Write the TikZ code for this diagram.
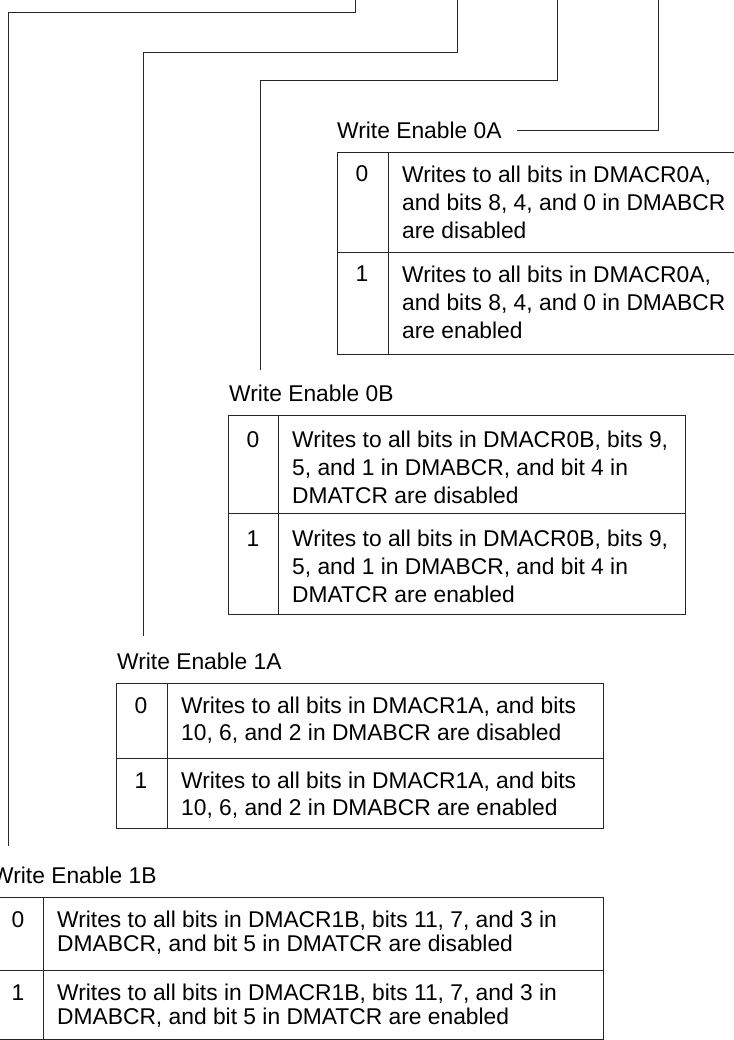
\documentclass[tikz,border=0pt]{standalone}
\usepackage{fontspec}
\setmainfont{Liberation Sans}
\begin{document}
\begin{tikzpicture}[x=1pt,y=-1pt,
    conn/.style={line width=1pt, draw=black!85},
    grid/.style={line width=1pt, draw=black!85},
    lbl/.style={anchor=base west, inner sep=0pt, font=\fontsize{22.8}{26}\selectfont},
    bitval/.style={anchor=base, inner sep=0pt, font=\fontsize{22.8}{26}\selectfont},
    desc/.style={anchor=north west, inner sep=0pt, align=left, font=\fontsize{22.8}{#1}\selectfont},
    desc/.default=26]
    \useasboundingbox (0,0) rectangle (733,1040);
    % bit lines coming down from the register
    \coordinate (b1B) at (355,-5);
    \coordinate (b1A) at (457,-5);
    \coordinate (b0B) at (557,-5);
    \coordinate (b0A) at (658,-5);
    \coordinate (e0B) at (260,370);
    \coordinate (e1A) at (143,636);
    \coordinate (e1B) at (8,846);
    % labels
    \node[lbl] (we0A) at (337,139) {Write Enable 0A};
    \node[lbl] (we0B) at (229,401) {Write Enable 0B};
    \node[lbl] (we1A) at (117,669) {Write Enable 1A};
    \node[lbl] (we1B) at (-8,883) {Write Enable 1B};
    % connectors
    \draw[conn] (b0A) |- ([xshift=15pt]we0A.east);
    \draw[conn] (b0B) -- ++(0,86) -| (e0B);
    \draw[conn] (b1A) -- ++(0,58) -| (e1A);
    \draw[conn] (b1B) -- ++(0,18) -| (e1B);
    % table 0A
    \draw[grid] (337,153) rectangle (750,354);
    \draw[grid] (337,253) -- (750,253);
    \draw[grid] (388,153) -- (388,354);
    \node[bitval] (v0A0) at (362,182) {0};
    \node[desc=28] (d0A0) at (402,165.7) {Writes to all bits in DMACR0A,\\and bits 8, 4, and 0 in DMABCR\\are disabled};
    \node[bitval] (v0A1) at (362,282) {1};
    \node[desc=28] (d0A1) at (402,265.7) {Writes to all bits in DMACR0A,\\and bits 8, 4, and 0 in DMABCR\\are enabled};
    % table 0B
    \draw[grid] (228,415) rectangle (685,614);
    \draw[grid] (228,513) -- (685,513);
    \draw[grid] (278,415) -- (278,614);
    \node[bitval] (v0B0) at (253,447) {0};
    \node[desc=28] (d0B0) at (292,430.7) {Writes to all bits in DMACR0B, bits 9,\\5, and 1 in DMABCR, and bit 4 in\\DMATCR are disabled};
    \node[bitval] (v0B1) at (253,546) {1};
    \node[desc=28] (d0B1) at (292,529.7) {Writes to all bits in DMACR0B, bits 9,\\5, and 1 in DMABCR, and bit 4 in\\DMATCR are enabled};
    % table 1A
    \draw[grid] (116,683) rectangle (603,828);
    \draw[grid] (116,758) -- (603,758);
    \draw[grid] (167,683) -- (167,828);
    \node[bitval] (v1A0) at (141,713) {0};
    \node[desc=27] (d1A0) at (181,696.7) {Writes to all bits in DMACR1A, and bits\\10, 6, and 2 in DMABCR are disabled};
    \node[bitval] (v1A1) at (141,788) {1};
    \node[desc=27] (d1A1) at (181,771.7) {Writes to all bits in DMACR1A, and bits\\10, 6, and 2 in DMABCR are enabled};
    % table 1B
    \draw[grid] (-7,897) rectangle (603,1039);
    \draw[grid] (-7,970) -- (603,970);
    \draw[grid] (43,897) -- (43,1039);
    \node[bitval] (v1B0) at (18,927) {0};
    \node[desc=24] (d1B0) at (57,910.7) {Writes to all bits in DMACR1B, bits 11, 7, and 3 in\\DMABCR, and bit 5 in DMATCR are disabled};
    \node[bitval] (v1B1) at (18,1000) {1};
    \node[desc=24] (d1B1) at (57,983.7) {Writes to all bits in DMACR1B, bits 11, 7, and 3 in\\DMABCR, and bit 5 in DMATCR are enabled};
\end{tikzpicture}
\end{document}
